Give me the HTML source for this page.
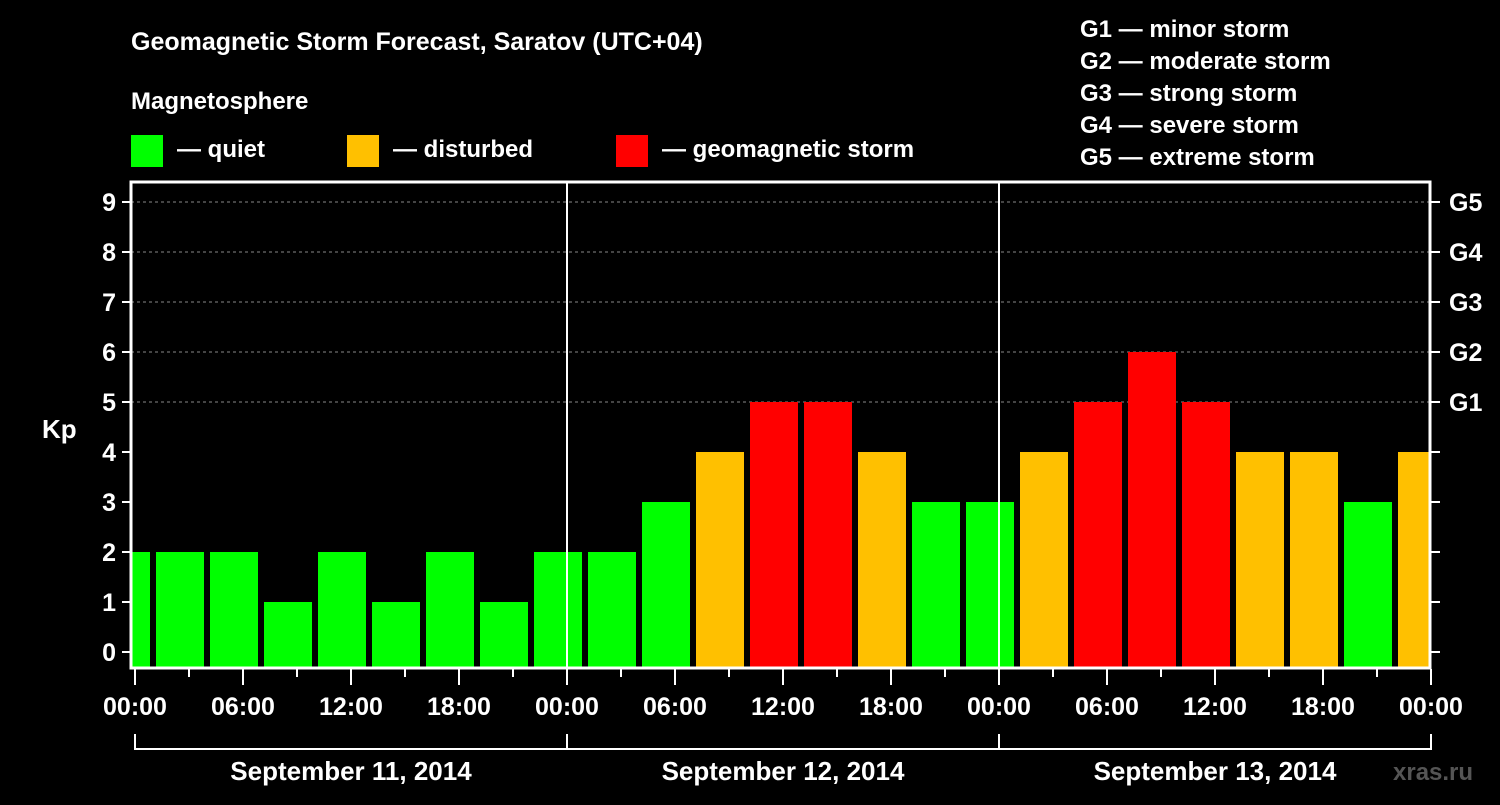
<!DOCTYPE html>
<html><head><meta charset="utf-8"><style>
body{margin:0;background:#000;width:1500px;height:800px;overflow:hidden}
svg text{font-family:"Liberation Sans",sans-serif;font-weight:bold;fill:#fff}
</style></head><body>
<svg id="c" width="1500" height="800" xmlns="http://www.w3.org/2000/svg">
<text x="131" y="50" font-size="25">Geomagnetic Storm Forecast, Saratov (UTC+04)</text>
<text x="131" y="109" font-size="24">Magnetosphere</text>
<g><rect x="131" y="135" width="32" height="32" fill="#00ff00"/><text x="177" y="157" font-size="24">— quiet</text></g>
<g><rect x="347" y="135" width="32" height="32" fill="#ffc000"/><text x="393" y="157" font-size="24">— disturbed</text></g>
<g><rect x="616" y="135" width="32" height="32" fill="#ff0000"/><text x="662" y="157" font-size="24">— geomagnetic storm</text></g>
<g font-size="24">
<text x="1080" y="37">G1 — minor storm</text><text x="1080" y="69">G2 — moderate storm</text><text x="1080" y="101">G3 — strong storm</text><text x="1080" y="133">G4 — severe storm</text><text x="1080" y="165">G5 — extreme storm</text></g>
<text x="42" y="438" font-size="26">Kp</text>
<text x="1393" y="780" font-size="24" fill="#555" style="fill:#555">xras.ru</text>
<defs><clipPath id="pc"><rect x="131" y="182" width="1299" height="486"/></clipPath></defs>
<g id="grid"></g><g id="bars" clip-path="url(#pc)"></g><g id="axes"></g>
</svg>
<script>
const kpValues=[2,2,2,1,2,1,2,1,2,2,3,4,5,5,4,3,3,4,5,6,5,4,4,3,4];
const barCenterHours=[-0.5,2.5,5.5,8.5,11.5,14.5,17.5,20.5,23.5,26.5,29.5,32.5,35.5,38.5,41.5,44.5,47.5,50.5,53.5,56.5,59.5,62.5,65.5,68.5,71.5];
const yTicks=[0,1,2,3,4,5,6,7,8,9];
const gLabels=["G1","G2","G3","G4","G5"];
const xTickLabels=["00:00","06:00","12:00","18:00","00:00","06:00","12:00","18:00","00:00","06:00","12:00","18:00","00:00"];
const dateLabels=["September 11, 2014","September 12, 2014","September 13, 2014"];
const NS="http://www.w3.org/2000/svg";
const X=h=>135+h*18, Y=v=>652-v*50;
function mk(p,t,a){const e=document.createElementNS(NS,t);for(const k in a)e.setAttribute(k,a[k]);p.appendChild(e);return e;}
const grid=document.getElementById('grid'),bars=document.getElementById('bars'),axes=document.getElementById('axes');
for(let v=5;v<=9;v++){const l=mk(grid,'line',{x1:131,x2:1430,y1:Y(v),y2:Y(v),stroke:'#888','stroke-dasharray':'3,3','stroke-width':1});

}
kpValues.forEach((v,i)=>{const c=v>=5?'#ff0000':v>=4?'#ffc000':'#00ff00';const x=X(barCenterHours[i]);
const r=mk(bars,'rect',{x:x-24,y:Y(v),width:48,height:668-Y(v),fill:c});

});
[567,999].forEach(x=>{const l=mk(axes,'line',{x1:x,x2:x,y1:182,y2:668,stroke:'#fff','stroke-width':2});

});
const fr=mk(axes,'rect',{x:131,y:182,width:1299,height:486,fill:'none',stroke:'#fff','stroke-width':3});


yTicks.forEach(v=>{mk(axes,'line',{x1:122,x2:131,y1:Y(v),y2:Y(v),stroke:'#fff','stroke-width':2});mk(axes,'line',{x1:1430,x2:1440,y1:Y(v),y2:Y(v),stroke:'#fff','stroke-width':2});
const t=mk(axes,'text',{x:116,y:Y(v)+9,'font-size':25,'text-anchor':'end'});t.textContent=v;

});
gLabels.forEach((g,i)=>{const t=mk(axes,'text',{x:1449,y:Y(5+i)+9,'font-size':25});t.textContent=g;

});
for(let h=0;h<=72;h+=3){const maj=h%6==0;mk(axes,'line',{x1:X(h),x2:X(h),y1:669,y2:maj?685:677,stroke:'#fff','stroke-width':2});}
xTickLabels.forEach((s,i)=>{const t=mk(axes,'text',{x:X(i*6),y:715,'font-size':25,'text-anchor':'middle'});t.textContent=s;

});
mk(axes,'line',{x1:135,x2:1431,y1:749,y2:749,stroke:'#fff','stroke-width':2});
[0,24,48,72].forEach(h=>mk(axes,'line',{x1:X(h),x2:X(h),y1:734,y2:750,stroke:'#fff','stroke-width':2}));
dateLabels.forEach((s,i)=>{const t=mk(axes,'text',{x:X(i*24+12),y:780,'font-size':26,'text-anchor':'middle'});t.textContent=s;

});
</script>
</body></html>
